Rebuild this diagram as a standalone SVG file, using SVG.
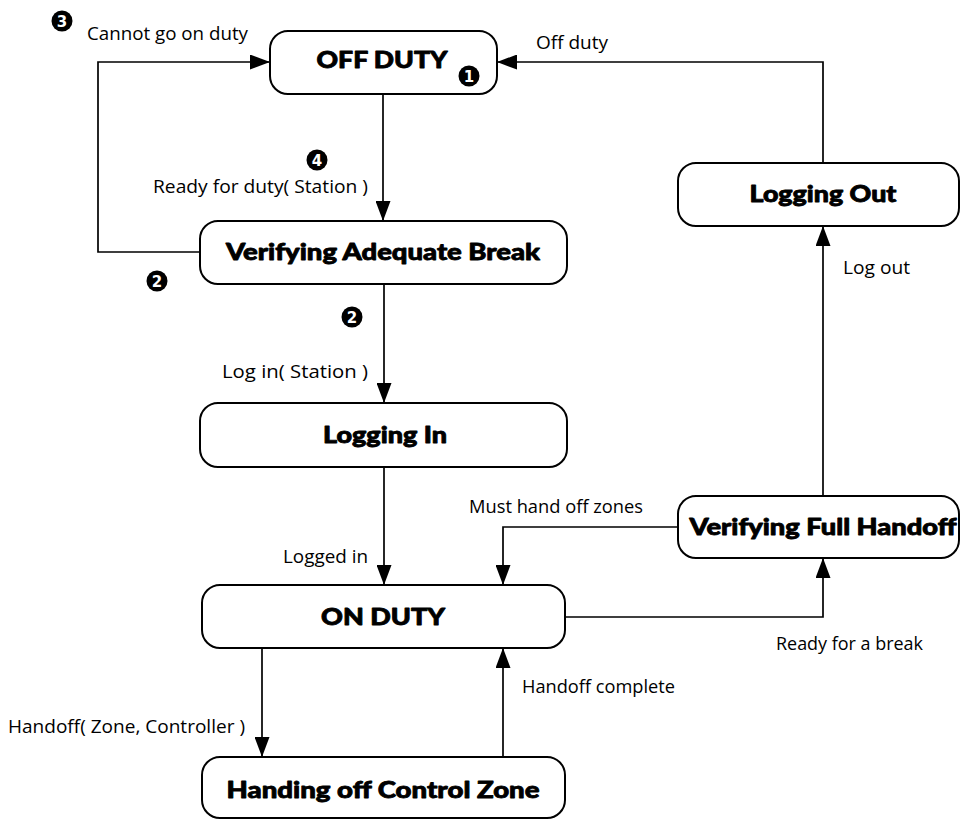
<svg xmlns="http://www.w3.org/2000/svg" width="961" height="821" viewBox="0 0 961 821">
  <style>
    .box { fill: #ffffff; stroke: #000000; stroke-width: 2; }
    .title { font-family: Lato, "Open Sans", "Liberation Sans", sans-serif; font-weight: 900; font-size: 22px; fill: #000000; stroke: #000000; stroke-width: 0.8; stroke-linejoin: round; text-anchor: middle; }
    .lbl { font-family: "Open Sans", Lato, "Liberation Sans", sans-serif; font-size: 17.5px; fill: #000000; }
    .edge { fill: none; stroke: #000000; stroke-width: 1.7; marker-end: url(#arrow); }
    .badge circle { fill: #000000; }
    .badge text { font-family: "DejaVu Sans", "Liberation Sans", sans-serif; font-weight: bold; font-size: 15px; fill: #ffffff; text-anchor: middle; }
  </style>
  <defs>
    <marker id="arrow" markerUnits="userSpaceOnUse" markerWidth="20" markerHeight="15" refX="20" refY="7.5" orient="auto">
      <path d="M0,0 L20,7.5 L0,15 z" fill="#000000"/>
    </marker>
  </defs>
  <rect width="961" height="821" fill="#ffffff"/>

  <!-- transitions -->
  <g id="connectors">
    <path class="edge" d="M383,94 V221"/>
    <path class="edge" d="M200,252 H98 V62 H270"/>
    <path class="edge" d="M384,284 V403"/>
    <path class="edge" d="M384,467 V585"/>
    <path class="edge" d="M678,527 H503 V585"/>
    <path class="edge" d="M565,617 H823 V558"/>
    <path class="edge" d="M823,496 V226"/>
    <path class="edge" d="M823,163 V62 H497"/>
    <path class="edge" d="M262,648 V757"/>
    <path class="edge" d="M503,757 V648"/>

    <text class="lbl" x="87" y="40" textLength="161" lengthAdjust="spacingAndGlyphs">Cannot go on duty</text>
    <text class="lbl" x="536" y="49" textLength="72" lengthAdjust="spacingAndGlyphs">Off duty</text>
    <text class="lbl" x="153" y="193" textLength="215" lengthAdjust="spacingAndGlyphs">Ready for duty( Station  )</text>
    <text class="lbl" x="222" y="378" textLength="146" lengthAdjust="spacingAndGlyphs">Log in(  Station  )</text>
    <text class="lbl" x="283" y="563" textLength="85" lengthAdjust="spacingAndGlyphs">Logged in</text>
    <text class="lbl" x="469" y="513" textLength="174" lengthAdjust="spacingAndGlyphs">Must hand off zones</text>
    <text class="lbl" x="843" y="274" textLength="67" lengthAdjust="spacingAndGlyphs">Log out</text>
    <text class="lbl" x="776" y="650" textLength="147" lengthAdjust="spacingAndGlyphs">Ready for a break</text>
    <text class="lbl" x="522" y="693" textLength="153" lengthAdjust="spacingAndGlyphs">Handoff complete</text>
    <text class="lbl" x="8" y="733" textLength="237" lengthAdjust="spacingAndGlyphs">Handoff( Zone, Controller )</text>
  </g>

  <!-- states -->
  <g id="off-duty">
    <rect class="box" x="270" y="31" width="227" height="63" rx="18"/>
    <text class="title" x="382" y="68" textLength="131" lengthAdjust="spacingAndGlyphs">OFF DUTY</text>
  </g>
  <g id="verifying-adequate-break">
    <rect class="box" x="200" y="221" width="367" height="63" rx="18"/>
    <text class="title" x="383" y="260" textLength="314" lengthAdjust="spacingAndGlyphs">Verifying Adequate Break</text>
  </g>
  <g id="logging-in">
    <rect class="box" x="200" y="403" width="367" height="64" rx="18"/>
    <text class="title" x="385" y="443" textLength="124" lengthAdjust="spacingAndGlyphs">Logging In</text>
  </g>
  <g id="on-duty">
    <rect class="box" x="202" y="585" width="363" height="63" rx="18"/>
    <text class="title" x="383" y="625" textLength="124" lengthAdjust="spacingAndGlyphs">ON DUTY</text>
  </g>
  <g id="handing-off-control-zone">
    <rect class="box" x="202" y="757" width="363" height="61" rx="18"/>
    <text class="title" x="383" y="798" textLength="313" lengthAdjust="spacingAndGlyphs">Handing off Control Zone</text>
  </g>
  <g id="logging-out">
    <rect class="box" x="678" y="163" width="281" height="63" rx="18"/>
    <text class="title" x="823" y="202" textLength="147" lengthAdjust="spacingAndGlyphs">Logging Out</text>
  </g>
  <g id="verifying-full-handoff">
    <rect class="box" x="678" y="496" width="281" height="62" rx="18"/>
    <text class="title" x="823" y="535" textLength="267" lengthAdjust="spacingAndGlyphs">Verifying Full Handoff</text>
  </g>

  <!-- numbered notes -->
  <g id="note-1" class="badge"><circle cx="469" cy="76" r="10.5"/><text x="469" y="81.5">1</text></g>
  <g id="note-2a" class="badge"><circle cx="157" cy="281" r="10.5"/><text x="157" y="286.5">2</text></g>
  <g id="note-2b" class="badge"><circle cx="352" cy="317" r="10.5"/><text x="352" y="322.5">2</text></g>
  <g id="note-3" class="badge"><circle cx="62" cy="21" r="10.5"/><text x="62" y="26.5">3</text></g>
  <g id="note-4" class="badge"><circle cx="317" cy="160" r="10.5"/><text x="317" y="165.5">4</text></g>
</svg>
